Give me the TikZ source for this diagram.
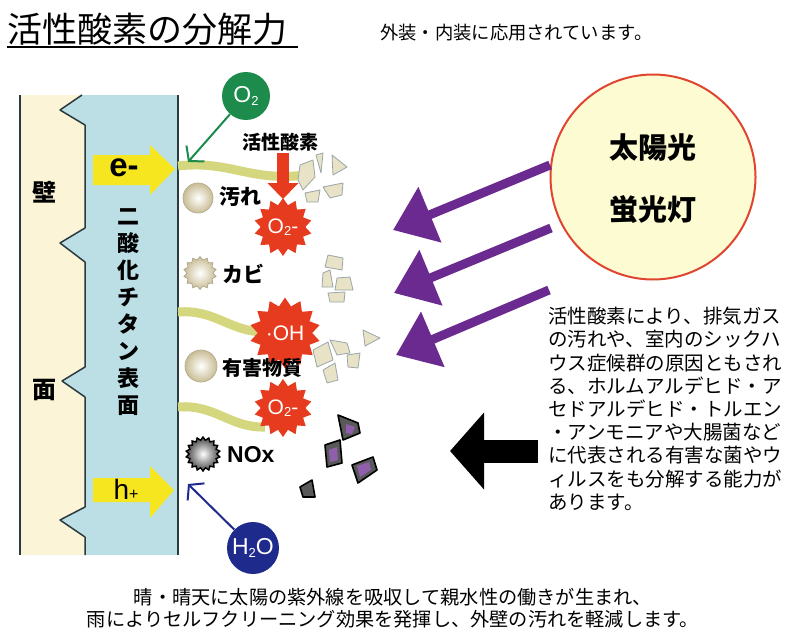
\documentclass[tikz,border=0pt]{standalone}
\usepackage{fontspec}
\setmainfont{Noto Sans CJK JP}
\newfontfamily\lsans{Liberation Sans}
\usetikzlibrary{shapes.geometric,arrows.meta}

\definecolor{wallbeige}{HTML}{FBF4D6}
\definecolor{tiblue}{HTML}{BCDFE6}
\definecolor{edgeline}{HTML}{2B3A3F}
\definecolor{eyellow}{HTML}{F6E620}
\definecolor{streak}{HTML}{D5D77E}
\definecolor{oxgreen}{HTML}{1C8B4B}
\definecolor{h2onavy}{HTML}{1F2B8C}
\definecolor{uvpurple}{HTML}{6B2A8F}
\definecolor{radred}{HTML}{E63B1E}
\definecolor{sunfill}{HTML}{FDFBD2}
\definecolor{sunedge}{HTML}{E0452F}
\definecolor{dirt}{HTML}{C9BD94}
\definecolor{shard}{HTML}{E8E2C6}
\definecolor{shardedge}{HTML}{9AA6A8}

\newcommand\setfs[1]{\fontsize{#1}{#1}\selectfont}
\newcommand\lowsub[1]{\raisebox{-0.1em}{\fontsize{13}{13}\selectfont #1}}

\tikzset{
  plain/.style={inner sep=0pt},
  radical/.style={star, star points=14, star point ratio=1.3, fill=radred,
    minimum size=58pt, inner sep=0pt, text=white, font=\lsans\setfs{21}},
  dirtball/.style={circle, minimum size=30pt, inner sep=0pt, shading=radial,
    inner color=white, outer color=dirt, draw=dirt!70!gray, line width=0.7pt},
  moldball/.style={star, star points=14, star point ratio=1.25, minimum size=33pt,
    inner sep=0pt, shading=radial, inner color=white, outer color=dirt,
    draw=dirt!60!gray, line width=0.7pt},
  noxball/.style={star, star points=18, star point ratio=1.22, minimum size=34pt,
    inner sep=0pt, shading=radial, inner color=white, outer color=gray!55!black,
    draw=black, line width=1.4pt},
  label/.style={inner sep=0pt, anchor=west, font=\bfseries\setfs{21}},
  molecule/.style={circle, inner sep=0pt, text=white, font=\lsans\setfs{23}},
  shardA/.style={fill=shard, draw=shardedge, line width=0.8pt, line join=round},
  shardD/.style={fill=black!65, draw=black, line width=1.6pt, line join=round},
  shardcore/.style={fill=uvpurple!75},
  uvarrow/.style={uvpurple, line width=9pt, -{Triangle[length=40pt,width=58pt]}},
  barb/.style={line width=2pt, -{Straight Barb[length=10pt,width=24pt]}}
}

\begin{document}
\begin{tikzpicture}[x=1pt,y=-1pt]
\useasboundingbox (0,0) rectangle (786,634);
\fill[white] (0,0) rectangle (786,634);

% ---- wall: plaster layer and titanium dioxide coating ----
\fill[wallbeige] (20,95) -- (82,95) -- (60,110) -- (85,125) -- (85,228) -- (60,243)
  -- (85,262) -- (85,367) -- (62,381) -- (85,397) -- (85,507) -- (60,520)
  -- (85,537) -- (85,555) -- (20,555) -- cycle;
\fill[tiblue] (82,95) -- (60,110) -- (85,125) -- (85,228) -- (60,243)
  -- (85,262) -- (85,367) -- (62,381) -- (85,397) -- (85,507) -- (60,520)
  -- (85,537) -- (85,555) -- (178,555) -- (178,95) -- cycle;
\draw[edgeline, line width=1.5pt, line join=round] (82,95) -- (60,110) -- (85,125)
  -- (85,228) -- (60,243) -- (85,262) -- (85,367) -- (62,381) -- (85,397)
  -- (85,507) -- (60,520) -- (85,537) -- (85,555);
\draw[edgeline, line width=1.8pt] (20,95) -- (20,555);
\draw[edgeline, line width=1.8pt] (178,95) -- (178,555);

\node[plain, font=\bfseries\setfs{24}] (wallA) at (44,192) {壁};
\node[plain, font=\bfseries\setfs{24}] (wallB) at (44,390) {面};
\node[plain, align=center, font=\bfseries\fontsize{22}{27}\selectfont] (tio2) at (128,312)
  {二\\酸\\化\\チ\\タ\\ン\\表\\面};

% ---- electron and hole arrows ----
\fill[eyellow] (93,155) -- (150,155) -- (150,145) -- (175,169) -- (150,195)
  -- (150,185) -- (93,185) -- cycle;
\node[plain, font=\lsans\bfseries\setfs{33}] (electron) at (124,168) {e-};
\fill[eyellow] (93,478) -- (150,478) -- (150,466) -- (174,490) -- (150,518)
  -- (150,502) -- (93,502) -- cycle;
\node[plain, font=\lsans\setfs{28}] (hole) at (126,489) {h{\setfs{16}+}};

% ---- reaction trails ----
\draw[streak, line width=9pt] (178,166) .. controls (230,160) and (250,182) .. (305,175);
\draw[streak, line width=9pt] (178,312) .. controls (215,309) and (230,332) .. (265,332);
\draw[streak, line width=9pt] (178,407) .. controls (215,404) and (230,428) .. (265,427);

% ---- radicals ----
\node[radical] (rad1) at (283,227) {O\lowsub{2}-};
\node[radical] (rad2) at (285,333) {·OH};
\node[radical] (rad3) at (283,408) {O\lowsub{2}-};

\node[plain, font=\bfseries\setfs{19}] (active) at (280,142) {活性酸素};
\coordinate (redtop) at (283,153);
\coordinate (redtip) at (283,199);
\draw[radred, line width=12pt, -{Triangle[length=16pt,width=30pt]}] (redtop) -- (redtip);

% ---- oxygen and water ----
\node[molecule, fill=oxgreen, minimum size=48pt] (o2) at (246,96) {O\lowsub{2}};
\coordinate (o2end) at (188,162);
\draw[oxgreen, barb] (o2) -- (o2end);
\node[molecule, fill=h2onavy, minimum size=52pt] (h2o) at (253,548) {H\lowsub{2}O};
\coordinate (h2oend) at (188,484);
\draw[h2onavy, barb] (h2o) -- (h2oend);

% ---- pollutants ----
\node[dirtball] (dirt) at (198,198) {};
\node[label] (dirtlbl) at (219,197) {汚れ};
\node[moldball] (mold) at (200,273) {};
\node[label] (moldlbl) at (222,274) {カビ};
\node[dirtball, minimum size=32pt] (harm) at (201,366) {};
\node[label, font=\bfseries\setfs{20}] (harmlbl) at (222,368) {有害物質};
\node[noxball] (nox) at (203,454) {};
\node[label, font=\lsans\bfseries\setfs{23}] (noxlbl) at (227,455) {NOx};

% ---- decomposed fragments ----
\filldraw[shardA] (300,165) -- (313,160) -- (315,177) -- (303,190) -- (298,180) -- cycle;
\filldraw[shardA] (316,155) -- (323,153) -- (321,173) -- cycle;
\filldraw[shardA] (332,155) -- (347,167) -- (333,175) -- cycle;
\filldraw[shardA] (323,187) -- (343,183) -- (342,195) -- (330,198) -- cycle;
\filldraw[shardA] (305,193) -- (320,190) -- (318,202) -- (307,202) -- cycle;

\filldraw[shardA] (328,255) -- (343,258) -- (342,270) -- (325,267) -- cycle;
\filldraw[shardA] (323,273) -- (330,270) -- (333,287) -- (322,287) -- cycle;
\filldraw[shardA] (337,278) -- (350,277) -- (353,290) -- (335,290) -- cycle;
\filldraw[shardA] (328,293) -- (345,292) -- (344,302) -- (330,302) -- cycle;

\filldraw[shardA] (313,350) -- (328,342) -- (333,360) -- (317,367) -- cycle;
\filldraw[shardA] (330,340) -- (347,343) -- (350,353) -- (337,355) -- cycle;
\filldraw[shardA] (323,370) -- (335,363) -- (338,380) -- (327,383) -- cycle;
\filldraw[shardA] (347,355) -- (360,353) -- (358,368) -- (348,367) -- cycle;
\filldraw[shardA] (363,330) -- (380,338) -- (365,346) -- cycle;

\filldraw[shardD] (338,415) -- (358,423) -- (360,433) -- (343,440) -- cycle;
\fill[shardcore] (346,424) -- (355,427) -- (352,434) -- (346,433) -- cycle;
\filldraw[shardD] (325,445) -- (340,440) -- (342,463) -- (327,467) -- cycle;
\fill[shardcore] (329,450) -- (337,447) -- (338,460) -- (330,462) -- cycle;
\filldraw[shardD] (352,465) -- (373,457) -- (377,470) -- (358,483) -- cycle;
\fill[shardcore] (357,466) -- (369,462) -- (371,470) -- (360,477) -- cycle;
\filldraw[shardD] (300,487) -- (312,480) -- (315,497) -- (303,497) -- cycle;

% ---- light source ----
\node[circle, draw=sunedge, line width=2pt, fill=sunfill, minimum size=205pt] (sun) at (653,177) {};
\node[plain, font=\bfseries\setfs{29}] (sunA) at (653,148) {太陽光};
\node[plain, font=\bfseries\setfs{29}] (sunB) at (653,210) {蛍光灯};

\coordinate (uv1s) at (550,165);
\coordinate (uv1e) at (393,230);
\coordinate (uv2s) at (551,228);
\coordinate (uv2e) at (394,293);
\coordinate (uv3s) at (549,290);
\coordinate (uv3e) at (396,355);
\draw[uvarrow] (uv1s) -- (uv1e);
\draw[uvarrow] (uv2s) -- (uv2e);
\draw[uvarrow] (uv3s) -- (uv3e);

% ---- explanation ----
\coordinate (blks) at (538,451);
\coordinate (blke) at (450,451);
\draw[black, line width=23pt, -{Triangle[length=34pt,width=75pt]}] (blks) -- (blke);

\node[plain, anchor=north west, align=left, font=\fontsize{19.5}{23.2}\selectfont] (desc) at (548,307)
  {活性酸素により、排気ガス\\
   の汚れや、室内のシックハ\\
   ウス症候群の原因ともされ\\
   る、ホルムアルデヒド・ア\\
   セドアルデヒド・トルエン\\
   ・アンモニアや大腸菌など\\
   に代表される有害な菌やウ\\
   ィルスをも分解する能力が\\
   あります。};

% ---- headings and notes ----
\node[plain, anchor=west, font=\setfs{35}] (title) at (7,29) {活性酸素の分解力};
\draw[black, line width=1.3pt] (7,47) -- (298,47);
\node[plain, anchor=west, font=\setfs{18.3}] (use) at (380,33) {外装・内装に応用されています。};

\node[plain, align=center, font=\fontsize{19.2}{22}\selectfont] (note) at (393,608)
  {晴・晴天に太陽の紫外線を吸収して親水性の働きが生まれ、\\
   雨によりセルフクリーニング効果を発揮し、外壁の汚れを軽減します。};
\end{tikzpicture}
\end{document}
